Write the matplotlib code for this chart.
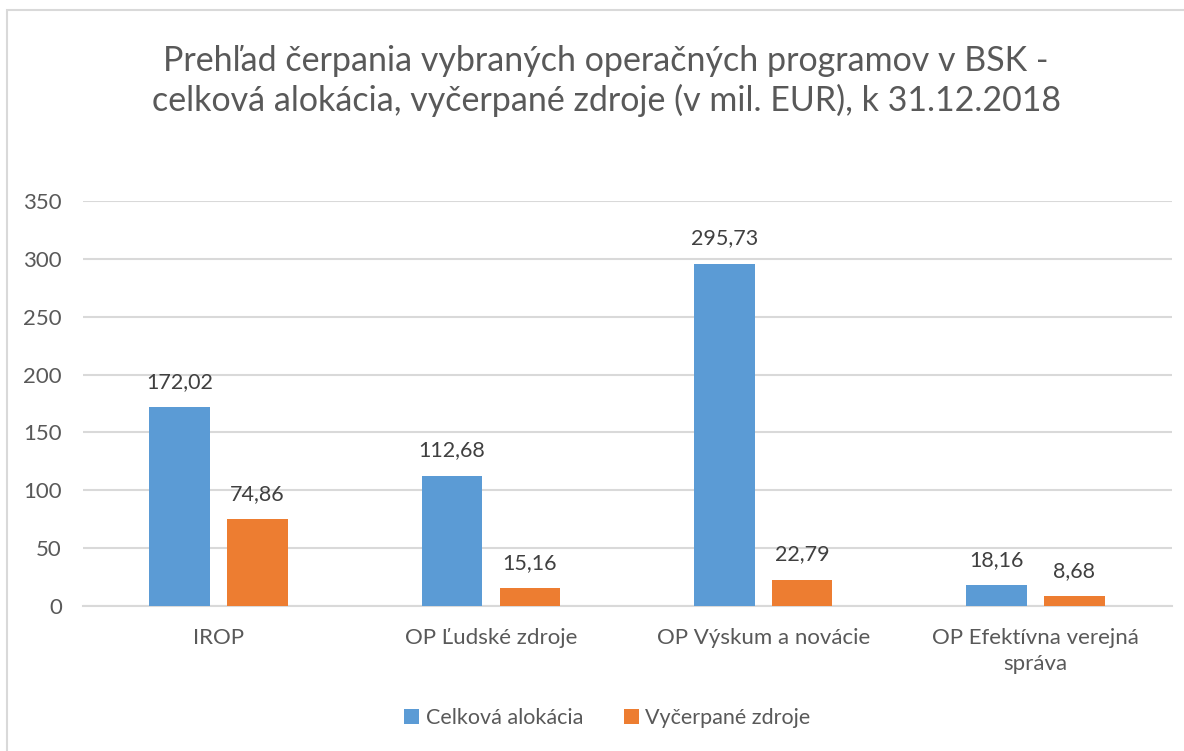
import matplotlib.pyplot as plt
import numpy as np
from matplotlib.patches import Rectangle

plt.rcParams['font.family'] = ['Lato', 'DejaVu Sans']

# data
categories = ['IROP', 'OP Ľudské zdroje', 'OP Výskum a novácie', 'OP Efektívna verejná\nspráva']
alokacia = [172.02, 112.68, 295.73, 18.16]
vycerpane = [74.86, 15.16, 22.79, 8.68]
series_names = ['Celková alokácia', 'Vyčerpané zdroje']

TXT = '#595959'
BLUE = '#5B9BD5'
ORANGE = '#ED7D31'


def fmt(v):
    return f'{v:.2f}'.replace('.', ',')


def main():
    fig = plt.figure(figsize=(11.84, 7.51), dpi=100)
    # ramik okolo grafu
    fig.patches.append(Rectangle((7 / 1184, -0.1), 1.2, 1 - 10 / 751 + 0.1,
                                 transform=fig.transFigure, fill=False,
                                 edgecolor='#D9D9D9', linewidth=1.5))
    ax = fig.add_axes([82.6 / 1184, 1 - 606 / 751, (1171.5 - 82.6) / 1184, 405 / 751])

    x = np.arange(len(categories))
    w = 0.223
    off = 0.143
    b1 = ax.bar(x - off, alokacia, w, color=BLUE, label=series_names[0], zorder=3)
    b2 = ax.bar(x + off, vycerpane, w, color=ORANGE, label=series_names[1], zorder=3)

    for bars, vals in ((b1, alokacia), (b2, vycerpane)):
        for rect, v in zip(bars, vals):
            ax.annotate(fmt(v), (rect.get_x() + rect.get_width() / 2, v),
                        xytext=(0, 11), textcoords='offset points',
                        ha='center', va='bottom', fontsize=15.5, color='#404040')

    ax.set_xlim(-0.5, 3.5)
    ax.set_ylim(0, 350)
    ax.set_yticks(range(0, 351, 50))
    ax.yaxis.grid(True, color='#D9D9D9', linewidth=1.5, zorder=0)
    ax.set_axisbelow(True)
    for s in ('top', 'right', 'left'):
        ax.spines[s].set_visible(False)
    ax.spines['bottom'].set_color('#D9D9D9')
    ax.spines['bottom'].set_linewidth(1.5)
    ax.tick_params(axis='both', length=0, labelsize=16, colors=TXT)
    ax.tick_params(axis='y', pad=15)
    ax.tick_params(axis='x', pad=16)
    ax.set_xticks(x)
    ax.set_xticklabels(categories, linespacing=1.35)

    fig.text(0.512, 1 - 81 / 751,
             'Prehľad čerpania vybraných operačných programov v BSK -\n'
             'celková alokácia, vyčerpané zdroje (v mil. EUR), k 31.12.2018',
             ha='center', va='center', fontsize=24.5, color=TXT, linespacing=1.25)

    fig.legend(loc='center', bbox_to_anchor=(0.513, 1 - 718 / 751), ncol=2,
               frameon=False, fontsize=15.5, labelcolor=TXT,
               handlelength=0.7, handleheight=0.7, handletextpad=0.3,
               columnspacing=1.9)

    fig.savefig('out.png', dpi=100)


if __name__ == '__main__':
    main()
